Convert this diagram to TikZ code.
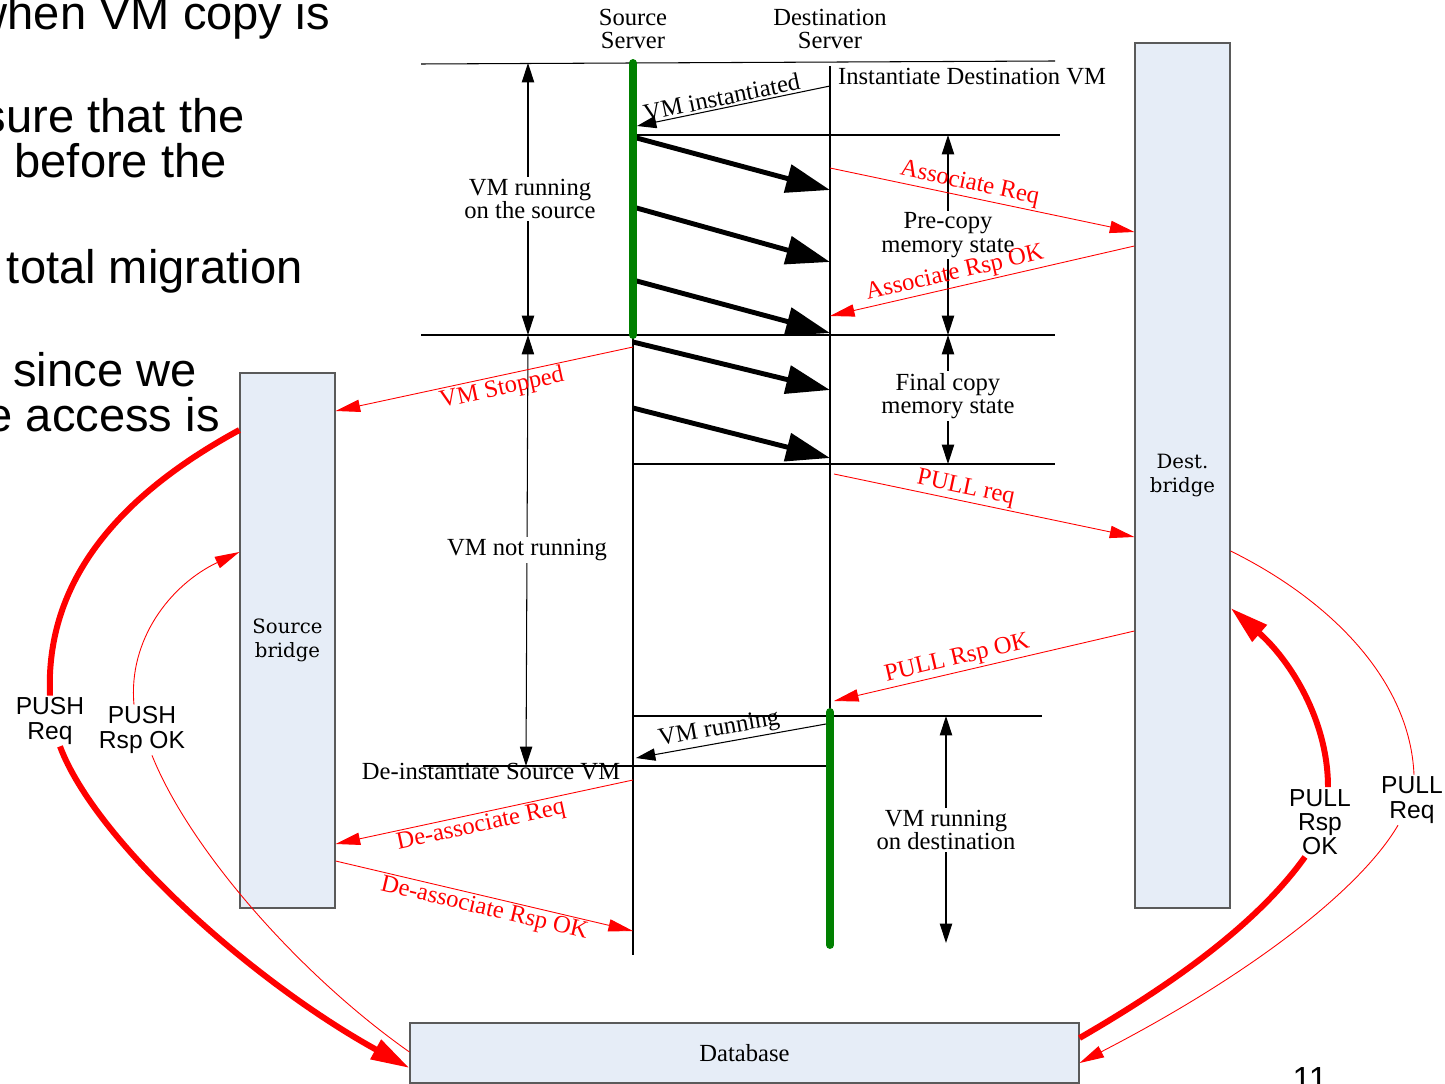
\documentclass[tikz,border=0pt]{standalone}
\usepackage{fontspec}
\setmainfont{Liberation Serif}
\setsansfont{Liberation Sans}
\newfontfamily\bridgefont{DejaVu Serif}
\usetikzlibrary{arrows.meta,calc}
\definecolor{boxfill}{RGB}{230,237,247}
\definecolor{boxline}{RGB}{90,90,90}
\definecolor{vmgreen}{RGB}{0,128,0}
\tikzset{
    lbl/.style={align=center,font=\fontsize{14}{13.5}\selectfont,inner sep=1pt},
    redlbl/.style={lbl,text=red},
    curvelbl/.style={align=center,font=\sffamily\fontsize{14}{13.8}\selectfont,inner sep=1pt},
    slide/.style={font=\sffamily\fontsize{26.8}{30}\selectfont,anchor=base east,inner sep=0pt},
    bridge/.style={rectangle,draw=boxline,fill=boxfill,line width=0.7pt,align=center,inner sep=0pt,
        font=\bridgefont\fontsize{11.2}{13.5}\selectfont},
    rule/.style={draw=black,line width=0.6pt},
    span/.style={line width=0.6pt,{Triangle[length=11pt,width=7pt]}-{Triangle[length=11pt,width=7pt]}},
    reply/.style={line width=0.6pt,-{Triangle[length=11pt,width=7pt]}},
    copy/.style={line width=2.8pt,-{Triangle[length=25pt,width=16pt]}},
    redline/.style={red,line width=0.5pt},
    msg/.style={redline,-{Triangle[length=14pt,width=7pt]}},
    bigline/.style={red,line width=3.4pt},
    bigmsg/.style={bigline,-{Triangle[length=22pt,width=12pt]}},
    running/.style={vmgreen,line width=4.5pt,line cap=round},
}

\begin{document}
\begin{tikzpicture}[x=0.02cm,y=-0.02cm]
	\useasboundingbox (0,0) rectangle (1445,1084);
	
	% slide text behind the figure
	\node[slide] (s1) at (330,30) {when VM copy is};
	\node[slide] (s2) at (245,133) {sure that the};
	\node[slide] (s3) at (227,178) {before the};
	\node[slide] (s4) at (303,284) {total migration};
	\node[slide] (s5) at (197,387) {since we};
	\node[slide] (s6) at (220,432) {e access is};
	\node[font=\sffamily\fontsize{19}{22}\selectfont,anchor=base,inner sep=0pt] (page) at (1310,1090) {11};
	
	\node[bridge,minimum width=1.9cm,minimum height=17.3cm] (dstb) at (1182.5,475.5) {Dest.\\bridge};
	\node[bridge,minimum width=1.9cm,minimum height=10.7cm] (srcb) at (287.5,640.5) {Source\\bridge};
	\node[bridge,font=\fontsize{14}{13.5}\selectfont,minimum width=13.38cm,minimum height=1.2cm] (db) at (744.5,1053) {Database};
	
	\node[lbl] (srv) at (633,29) {Source\\Server};
	\node[lbl] (dsv) at (830,29) {Destination\\Server};
	
	\draw[rule] (421,64) -- (1055,61);
	\draw[rule] (633,135) -- (1060,135);
	\draw[rule] (421,335) -- (1055,335);
	\draw[rule] (633,464) -- (1055,464);
	\draw[rule] (633,716) -- (1042,716);
	\draw[rule] (423,766) -- (831,766);
	
	\draw[rule] (srv |- 0,63) -- (srv |- 0,955);
	\draw[rule] (dsv |- 0,66) -- (dsv |- 0,945);
	
	\foreach \a/\b in {137/190,207/262,280/333,342/390,408/458}
		\draw[copy] (srv |- 0,\a) -- (dsv |- 0,\b);
	
	\draw[running] (srv |- 0,63) -- (srv |- 0,335);
	\draw[running] (dsv |- 0,712) -- (dsv |- 0,945);
	
	\draw[span] (528,63) -- (528,335);
	\draw[span] (948,135) -- (948,335);
	\draw[span] (948,335) -- (948,464);
	\draw[span] (528,335) -- (526,766);
	\draw[span] (946,716) -- (946,943);
	
	\node[lbl,fill=white] (run1) at (530,199) {VM running\\on the source};
	\node[lbl,fill=white] (pre) at (948,235) {Pre-copy\\memory state};
	\node[lbl,fill=white] (fin) at (948,396) {Final copy\\memory state};
	\node[lbl,fill=white] (stop) at (527,550) {VM not running};
	\node[lbl,fill=white] (run2) at (946,830) {VM running\\on destination};
	\node[lbl,anchor=west] (inst) at (836,77) {Instantiate Destination VM};
	\node[lbl] (deinst) at (491,772) {De-instantiate Source VM};
	
	\draw[reply] (dsv |- 0,86) -- node[lbl,sloped,above,pos=0.55] {VM instantiated} ($(srv |- 0,126)+(4,0)$);
	\draw[reply] ($(dsv |- 0,724)+(-4,0)$) -- node[lbl,sloped,above,pos=0.55] {VM running} ($(srv |- 0,758)+(3,0)$);
	
	\draw[msg] (dsv |- 0,168) -- node[redlbl,sloped,above,pos=0.45] {Associate Req} (dstb.west |- 0,232);
	\draw[msg] (dstb.west |- 0,246) -- node[redlbl,sloped,above,pos=0.58] {Associate Rsp OK} (dsv |- 0,316);
	\draw[msg] (srv |- 0,347) -- node[redlbl,sloped,below,pos=0.45] {VM Stopped} (srcb.east |- 0,411);
	\draw[msg] ($(dsv |- 0,474)+(4,0)$) -- node[redlbl,sloped,above,pos=0.43] {PULL req} (dstb.west |- 0,537);
	\draw[msg] (dstb.west |- 0,631) -- node[redlbl,sloped,above,pos=0.58] {PULL Rsp OK} ($(dsv |- 0,701)+(4,0)$);
	\draw[msg] (srv |- 0,780) -- node[redlbl,sloped,below,pos=0.52] {De-associate Req} (srcb.east |- 0,844);
	\draw[msg] (srcb.east |- 0,861) -- node[redlbl,sloped,below,pos=0.51] {De-associate Rsp OK} (srv |- 0,931);
	
	\node[curvelbl] (pushq) at (50,721) {PUSH\\Req};
	\node[curvelbl] (pushr) at (142,730) {PUSH\\Rsp OK};
	\node[curvelbl] (pullr) at (1320,822) {PULL\\Rsp\\OK};
	\node[curvelbl] (pullq) at (1412,800) {PULL\\Req};
	
	\draw[bigline] (srcb.west |- 0,430) .. controls (120,495) and (45,580) .. (pushq.north);
	\draw[bigmsg] ($(pushq.south)+(10,0)$) .. controls (95,840) and (250,980) .. (db.west |- 0,1068);
	\draw[redline] (db.west |- 0,1052) .. controls (300,975) and (190,850) .. ($(pushr.south)+(10,0)$);
	\draw[msg] ($(pushr.north)+(-8,0)$) .. controls (128,640) and (170,585) .. (srcb.west |- 0,552);
	\draw[bigline] (db.east |- 0,1038) .. controls (1180,980) and (1260,920) .. ($(pullr.south)+(-15,0)$);
	\draw[bigmsg] ($(pullr.north)+(8,0)$) .. controls (1328,720) and (1290,660) .. (dstb.east |- 0,608);
	\draw[redline] (dstb.east |- 0,551) .. controls (1330,600) and (1410,680) .. ($(pullq.north)+(2,0)$);
	\draw[msg] ($(pullq.south)+(-14,0)$) .. controls (1360,890) and (1250,975) .. (db.east |- 0,1063);
\end{tikzpicture}
\end{document}
